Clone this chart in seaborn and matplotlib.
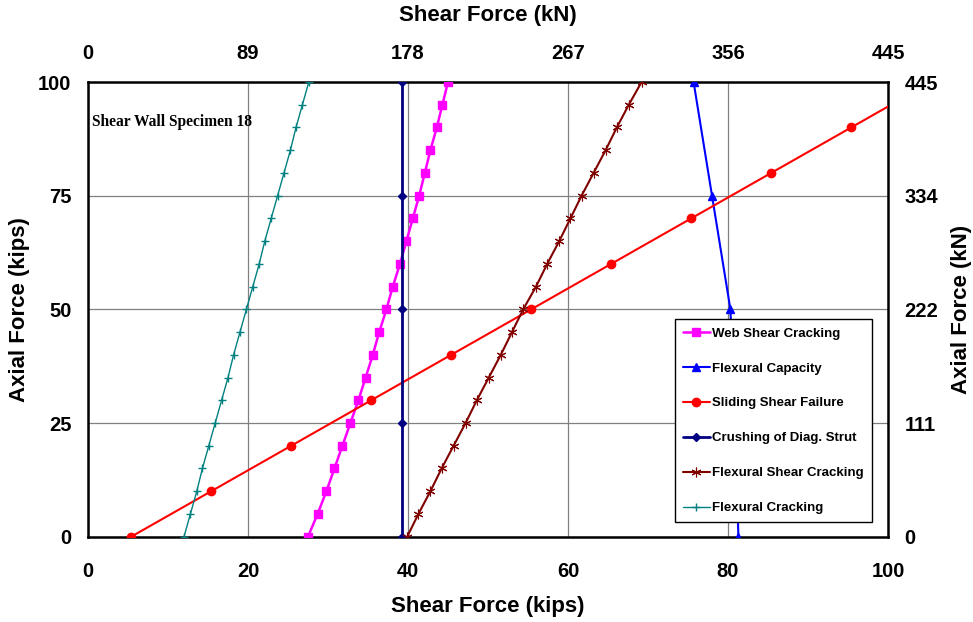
import matplotlib
matplotlib.use("Agg")
import matplotlib.pyplot as plt
import seaborn as sns
import pandas as pd

# ---------------- data (kips) ----------------
axial_5 = [0, 5, 10, 15, 20, 25, 30, 35, 40, 45, 50, 55, 60, 65, 70, 75, 80, 85, 90, 95, 100]

web_shear = [27.5, 28.7, 29.8, 30.8, 31.8, 32.8, 33.8, 34.7, 35.6, 36.4, 37.3,
             38.1, 39.0, 39.8, 40.6, 41.4, 42.1, 42.8, 43.6, 44.3, 45.0]

flex_cap_axial = [0, 25, 50, 75, 100]
flex_cap = [81.3, 80.9, 80.3, 78.0, 75.7]

sliding_axial = [0, 10, 20, 30, 40, 50, 60, 70, 80, 90, 100]
sliding = [5.4, 15.4, 25.4, 35.4, 45.4, 55.4, 65.4, 75.4, 85.4, 95.4, 105.4]

strut_axial = [0, 25, 50, 75, 100]
strut = [39.3, 39.3, 39.3, 39.3, 39.3]

flex_shear = [39.9, 41.3, 42.8, 44.2, 45.7, 47.2, 48.6, 50.1, 51.6, 53.0, 54.4,
              56.0, 57.4, 58.9, 60.3, 61.7, 63.2, 64.7, 66.1, 67.6, 69.2]

flex_crack = [12.0, 12.8, 13.6, 14.3, 15.1, 15.9, 16.7, 17.5, 18.2, 19.0, 19.8,
              20.6, 21.4, 22.1, 22.9, 23.7, 24.5, 25.3, 26.0, 26.8, 27.6]

x_ticks = [0, 20, 40, 60, 80, 100]
y_ticks = [0, 25, 50, 75, 100]
top_tick_labels = ["0", "89", "178", "267", "356", "445"]
right_tick_labels = ["0", "111", "222", "334", "445"]

series_names = ["Web Shear Cracking", "Flexural Capacity", "Sliding Shear Failure",
                "Crushing of Diag. Strut", "Flexural Shear Cracking", "Flexural Cracking"]

# ---------------- style ----------------
sns.set_style("white")
plt.rcParams["font.family"] = ["Liberation Sans", "DejaVu Sans"]
plt.rcParams["font.weight"] = "bold"
plt.rcParams["text.color"] = "black"
plt.rcParams["axes.labelcolor"] = "black"
plt.rcParams["xtick.color"] = "black"
plt.rcParams["ytick.color"] = "black"

TICK_FS = 14.5
LABEL_FS = 16

fig = plt.figure(figsize=(9.73, 6.22), dpi=100)
ax = fig.add_axes([88 / 973, (622 - 536.7) / 622, 800 / 973, 454.7 / 622])

def draw(xv, yv, name, color, marker, ms, lw, mew=1.0):
    df = pd.DataFrame({"shear": xv, "axial": yv})
    sns.lineplot(data=df, x="shear", y="axial", sort=False, estimator=None,
                 ax=ax, color=color, marker=marker, markersize=ms, linewidth=lw,
                 markeredgecolor=color, markeredgewidth=mew, label=name,
                 clip_on=True, zorder=3)

draw(web_shear, axial_5, series_names[0], "#FF00FF", "s", 5.5, 1.8)
draw(flex_cap, flex_cap_axial, series_names[1], "#0000FF", "^", 5.5, 1.5)
draw(sliding, sliding_axial, series_names[2], "#FF0000", "o", 6, 1.5)
draw(strut, strut_axial, series_names[3], "#000080", "D", 4.5, 2.0)
draw(flex_shear, axial_5, series_names[4], "#800000", (6, 2, 0), 7, 1.5, mew=0.8)
draw(flex_crack, axial_5, series_names[5], "#008080", "+", 6, 1.0, mew=1.0)

ax.set_xlim(0, 100)
ax.set_ylim(0, 100)
ax.set_xticks(x_ticks)
ax.set_yticks(y_ticks)
ax.grid(True, color="#808080", linewidth=0.9)
ax.set_axisbelow(True)
for s in ax.spines.values():
    s.set_color("black")
    s.set_linewidth(1.8)
    s.set_visible(True)

ax.tick_params(axis="both", length=0, labelsize=TICK_FS, labelcolor="black")
ax.tick_params(axis="x", pad=18)
ax.tick_params(axis="y", pad=12)
for lab in ax.get_xticklabels() + ax.get_yticklabels():
    lab.set_fontweight("bold")

ax.set_xlabel("Shear Force (kips)", fontsize=LABEL_FS, fontweight="bold", labelpad=11, color="black")
ax.set_ylabel("Axial Force (kips)", fontsize=LABEL_FS, fontweight="bold", labelpad=6, color="black")

# top axis (kN)
top = ax.secondary_xaxis("top")
top.set_xticks(x_ticks)
top.set_xticklabels(top_tick_labels, fontsize=TICK_FS, fontweight="bold", color="black")
top.tick_params(length=0, pad=14)
top.set_xlabel("Shear Force (kN)", fontsize=LABEL_FS, fontweight="bold", labelpad=16, color="black")
top.spines["top"].set_visible(False)

# right axis (kN)
right = ax.secondary_yaxis("right")
right.set_yticks(y_ticks)
right.set_yticklabels(right_tick_labels, fontsize=TICK_FS, fontweight="bold", color="black")
right.tick_params(length=0, pad=12)
right.set_ylabel("Axial Force (kN)", fontsize=LABEL_FS, fontweight="bold", labelpad=9, color="black")
right.spines["right"].set_visible(False)

ax.text(0.005, 0.911, "Shear Wall Specimen 18", transform=ax.transAxes,
        fontsize=11.2, fontweight="bold", family=["Liberation Serif", "DejaVu Serif"],
        va="center", ha="left", color="black")

leg = ax.legend(loc="lower left", bbox_to_anchor=(0.734, 0.032), fontsize=9.5,
                frameon=True, fancybox=False, edgecolor="black", framealpha=1,
                labelspacing=1.72, handlelength=2.0, handletextpad=0.2,
                borderpad=0.6, borderaxespad=0)
leg.get_frame().set_linewidth(1.0)
for t in leg.get_texts():
    t.set_fontweight("bold")
    t.set_color("black")
leg.set_zorder(10)

fig.savefig("out.png", dpi=100)
